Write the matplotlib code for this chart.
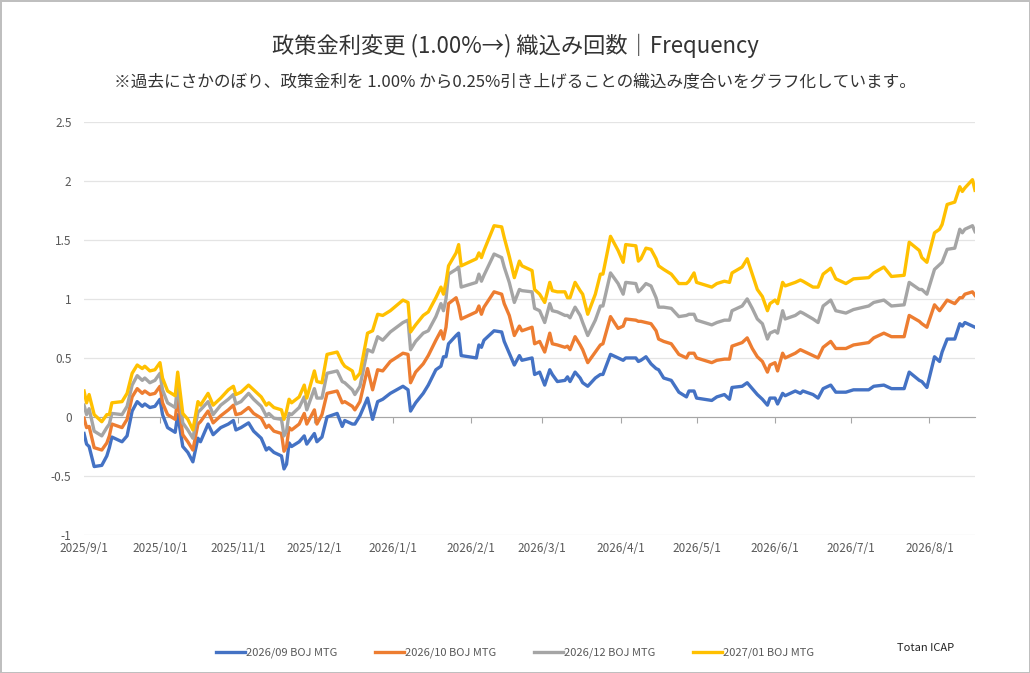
import matplotlib
matplotlib.use("Agg")
import matplotlib.pyplot as plt
import matplotlib.dates as mdates
import numpy as np
import pandas as pd

plt.rcParams["font.family"] = ["Noto Sans CJK JP", "DejaVu Sans"]

# sample dates (at the turning points)
dates = [
    "2025-09-01", "2025-09-02", "2025-09-03", "2025-09-05", "2025-09-08", "2025-09-10",
    "2025-09-11", "2025-09-12", "2025-09-16", "2025-09-18", "2025-09-20", "2025-09-22",
    "2025-09-24", "2025-09-25", "2025-09-27", "2025-09-29", "2025-10-01", "2025-10-02",
    "2025-10-04", "2025-10-07", "2025-10-08", "2025-10-10", "2025-10-12", "2025-10-14",
    "2025-10-16", "2025-10-17", "2025-10-20", "2025-10-22", "2025-10-25", "2025-10-28",
    "2025-10-30", "2025-10-31", "2025-11-02", "2025-11-05", "2025-11-07", "2025-11-10",
    "2025-11-12", "2025-11-13", "2025-11-15", "2025-11-18", "2025-11-19", "2025-11-20",
    "2025-11-21", "2025-11-22", "2025-11-25", "2025-11-27", "2025-11-28", "2025-12-01",
    "2025-12-02", "2025-12-04", "2025-12-06", "2025-12-10", "2025-12-12", "2025-12-13",
    "2025-12-16", "2025-12-17", "2025-12-19",
    "2025-12-22", "2025-12-24", "2025-12-26", "2025-12-28", "2025-12-31", "2026-01-05",
    "2026-01-07", "2026-01-08", "2026-01-10", "2026-01-13", "2026-01-15", "2026-01-18",
    "2026-01-20", "2026-01-21", "2026-01-22", "2026-01-23", "2026-01-26", "2026-01-27",
    "2026-01-28", "2026-02-03", "2026-02-04", "2026-02-05", "2026-02-06", "2026-02-10",
    "2026-02-13", "2026-02-14", "2026-02-16", "2026-02-18", "2026-02-20", "2026-02-21",
    "2026-02-25", "2026-02-26", "2026-02-28", "2026-03-02", "2026-03-04", "2026-03-05",
    "2026-03-07", "2026-03-10", "2026-03-11", "2026-03-12", "2026-03-14", "2026-03-16",
    "2026-03-17", "2026-03-19", "2026-03-22", "2026-03-24", "2026-03-25", "2026-03-28",
    "2026-03-31", "2026-04-02", "2026-04-03", "2026-04-07", "2026-04-08", "2026-04-09",
    "2026-04-11", "2026-04-13", "2026-04-15", "2026-04-16", "2026-04-18", "2026-04-21",
    "2026-04-24", "2026-04-27", "2026-04-28", "2026-04-30", "2026-05-01", "2026-05-07",
    "2026-05-09", "2026-05-12", "2026-05-14", "2026-05-15", "2026-05-19", "2026-05-21",
    "2026-05-23", "2026-05-25", "2026-05-27", "2026-05-29", "2026-05-30", "2026-06-01",
    "2026-06-02", "2026-06-04", "2026-06-05", "2026-06-09", "2026-06-11", "2026-06-12",
    "2026-06-16", "2026-06-18", "2026-06-20", "2026-06-23", "2026-06-25", "2026-06-29",
    "2026-07-02", "2026-07-08", "2026-07-10", "2026-07-14", "2026-07-17", "2026-07-22",
    "2026-07-24", "2026-07-28", "2026-07-29", "2026-07-31", "2026-08-03", "2026-08-05",
    "2026-08-06", "2026-08-08", "2026-08-11", "2026-08-13", "2026-08-14", "2026-08-15",
    "2026-08-18", "2026-08-19",
]

mtg_2609 = [
    -0.14, -0.23, -0.25, -0.42, -0.41, -0.33, -0.26, -0.17, -0.21, -0.16, 0.05, 0.13,
    0.09, 0.11, 0.08, 0.09, 0.15, 0.02, -0.09, -0.13, 0.02, -0.25, -0.30, -0.38,
    -0.18, -0.21, -0.06, -0.15, -0.09, -0.06, -0.03, -0.11, -0.09, -0.05, -0.12, -0.18,
    -0.28, -0.26, -0.30, -0.33, -0.44, -0.40, -0.22, -0.25, -0.21, -0.16, -0.23, -0.14,
    -0.21, -0.17, 0.00, 0.03, -0.08, -0.03, -0.06, -0.06, 0.01,
    0.16, -0.02, 0.13, 0.15, 0.20, 0.26, 0.23, 0.05, 0.12, 0.20, 0.27, 0.40,
    0.43, 0.51, 0.51, 0.62, 0.69, 0.71, 0.52, 0.50, 0.61, 0.59, 0.65, 0.73,
    0.72, 0.64, 0.54, 0.44, 0.52, 0.48, 0.50, 0.36, 0.38, 0.27, 0.40, 0.36,
    0.30, 0.31, 0.34, 0.30, 0.38, 0.33, 0.29, 0.26, 0.33, 0.36, 0.36, 0.53,
    0.50, 0.48, 0.50, 0.50, 0.47, 0.48, 0.51, 0.45, 0.41, 0.40, 0.33, 0.31,
    0.21, 0.17, 0.22, 0.22, 0.16, 0.14, 0.17, 0.19, 0.15, 0.25, 0.26, 0.29,
    0.24, 0.19, 0.15, 0.10, 0.16, 0.16, 0.11, 0.20, 0.18, 0.22, 0.20, 0.22,
    0.19, 0.16, 0.24, 0.27, 0.21, 0.21, 0.23, 0.23, 0.26, 0.27, 0.24, 0.24,
    0.38, 0.31, 0.30, 0.25, 0.51, 0.47, 0.55, 0.66, 0.66, 0.79, 0.77, 0.80,
    0.77, 0.76,
]

mtg_2610 = [
    -0.01, -0.09, -0.08, -0.26, -0.28, -0.22, -0.16, -0.06, -0.09, -0.02, 0.17, 0.24,
    0.20, 0.22, 0.19, 0.20, 0.26, 0.12, 0.02, -0.02, 0.16, -0.15, -0.21, -0.28,
    -0.06, -0.04, 0.05, -0.05, 0.01, 0.06, 0.10, 0.02, 0.03, 0.08, 0.03, -0.01,
    -0.09, -0.07, -0.12, -0.14, -0.29, -0.25, -0.09, -0.11, -0.06, 0.03, -0.06, 0.06,
    -0.06, 0.02, 0.20, 0.22, 0.12, 0.13, 0.09, 0.06, 0.13,
    0.41, 0.23, 0.40, 0.39, 0.47, 0.54, 0.53, 0.29, 0.38, 0.45, 0.52, 0.65,
    0.73, 0.66, 0.76, 0.96, 1.01, 0.94, 0.83, 0.89, 0.94, 0.87, 0.93, 1.06,
    1.04, 0.96, 0.86, 0.69, 0.77, 0.73, 0.76, 0.62, 0.64, 0.55, 0.71, 0.62,
    0.61, 0.59, 0.60, 0.57, 0.68, 0.61, 0.57, 0.46, 0.55, 0.61, 0.62, 0.85,
    0.75, 0.77, 0.83, 0.82, 0.81, 0.81, 0.80, 0.79, 0.73, 0.66, 0.64, 0.62,
    0.53, 0.50, 0.54, 0.54, 0.50, 0.46, 0.48, 0.49, 0.49, 0.60, 0.63, 0.67,
    0.58, 0.51, 0.47, 0.38, 0.44, 0.46, 0.39, 0.54, 0.50, 0.54, 0.57, 0.56,
    0.52, 0.50, 0.59, 0.64, 0.58, 0.58, 0.61, 0.63, 0.67, 0.71, 0.68, 0.68,
    0.86, 0.81, 0.79, 0.76, 0.95, 0.90, 0.93, 0.99, 0.96, 1.01, 1.01, 1.04,
    1.06, 1.03,
]

mtg_2612 = [
    0.10, 0.02, 0.07, -0.12, -0.16, -0.09, -0.06, 0.03, 0.02, 0.09, 0.27, 0.35,
    0.31, 0.33, 0.29, 0.31, 0.37, 0.23, 0.12, 0.08, 0.27, -0.05, -0.11, -0.18,
    0.04, 0.06, 0.13, 0.02, 0.10, 0.15, 0.19, 0.11, 0.13, 0.20, 0.15, 0.09,
    0.01, 0.03, -0.01, -0.02, -0.16, -0.12, 0.03, 0.02, 0.08, 0.17, 0.06, 0.24,
    0.16, 0.16, 0.37, 0.39, 0.30, 0.29, 0.23, 0.19, 0.26,
    0.57, 0.55, 0.68, 0.65, 0.72, 0.80, 0.82, 0.57, 0.64, 0.71, 0.73, 0.85,
    0.96, 0.90, 1.00, 1.21, 1.25, 1.27, 1.10, 1.14, 1.21, 1.15, 1.20, 1.38,
    1.35, 1.27, 1.14, 0.97, 1.08, 1.07, 1.06, 0.92, 0.90, 0.80, 0.96, 0.90,
    0.89, 0.86, 0.86, 0.84, 0.93, 0.86, 0.80, 0.69, 0.82, 0.94, 0.94, 1.22,
    1.13, 1.04, 1.14, 1.13, 1.06, 1.08, 1.13, 1.11, 1.01, 0.93, 0.93, 0.92,
    0.85, 0.86, 0.87, 0.87, 0.82, 0.78, 0.80, 0.82, 0.82, 0.90, 0.94, 1.00,
    0.92, 0.83, 0.79, 0.66, 0.71, 0.73, 0.71, 0.90, 0.83, 0.86, 0.89, 0.88,
    0.83, 0.80, 0.94, 0.99, 0.90, 0.88, 0.91, 0.94, 0.97, 0.99, 0.94, 0.95,
    1.14, 1.08, 1.08, 1.04, 1.25, 1.29, 1.31, 1.42, 1.43, 1.59, 1.56, 1.59,
    1.62, 1.57,
]

mtg_2701 = [
    0.22, 0.12, 0.19, 0.02, -0.04, 0.02, 0.02, 0.12, 0.13, 0.20, 0.37, 0.44,
    0.41, 0.43, 0.39, 0.40, 0.46, 0.33, 0.22, 0.18, 0.38, 0.03, -0.02, -0.11,
    0.13, 0.10, 0.20, 0.10, 0.16, 0.23, 0.26, 0.19, 0.21, 0.27, 0.23, 0.17,
    0.10, 0.12, 0.08, 0.06, -0.02, 0.05, 0.15, 0.12, 0.17, 0.27, 0.16, 0.39,
    0.30, 0.29, 0.53, 0.55, 0.46, 0.43, 0.39, 0.32, 0.37,
    0.71, 0.73, 0.87, 0.86, 0.90, 0.99, 0.97, 0.72, 0.78, 0.86, 0.89, 1.01,
    1.10, 1.04, 1.14, 1.28, 1.39, 1.46, 1.28, 1.34, 1.39, 1.35, 1.41, 1.62,
    1.61, 1.52, 1.36, 1.18, 1.32, 1.28, 1.24, 1.08, 1.04, 0.97, 1.14, 1.07,
    1.06, 1.06, 1.01, 1.01, 1.14, 1.07, 1.04, 0.87, 1.04, 1.21, 1.21, 1.53,
    1.41, 1.31, 1.46, 1.45, 1.32, 1.34, 1.43, 1.42, 1.34, 1.28, 1.25, 1.21,
    1.13, 1.13, 1.15, 1.22, 1.14, 1.10, 1.13, 1.15, 1.14, 1.22, 1.27, 1.34,
    1.21, 1.08, 1.02, 0.90, 0.96, 0.99, 0.96, 1.14, 1.11, 1.14, 1.16, 1.15,
    1.10, 1.10, 1.21, 1.26, 1.17, 1.13, 1.17, 1.18, 1.22, 1.27, 1.19, 1.20,
    1.48, 1.41, 1.35, 1.31, 1.56, 1.59, 1.63, 1.80, 1.82, 1.95, 1.91, 1.94,
    2.01, 1.92,
]

series_names = ["2026/09 BOJ MTG", "2026/10 BOJ MTG", "2026/12 BOJ MTG", "2027/01 BOJ MTG"]
series_colors = ["#4472C4", "#ED7D31", "#A5A5A5", "#FFC000"]

month_ticks = [
    "2025-09-01", "2025-10-01", "2025-11-01", "2025-12-01", "2026-01-01", "2026-02-01",
    "2026-03-01", "2026-04-01", "2026-05-01", "2026-06-01", "2026-07-01", "2026-08-01",
]
month_labels = [
    "2025/9/1", "2025/10/1", "2025/11/1", "2025/12/1", "2026/1/1", "2026/2/1",
    "2026/3/1", "2026/4/1", "2026/5/1", "2026/6/1", "2026/7/1", "2026/8/1",
]
y_ticks = [-1, -0.5, 0, 0.5, 1, 1.5, 2, 2.5]
y_labels = ["-1", "-0.5", "0", "0.5", "1", "1.5", "2", "2.5"]

title = "政策金利変更 (1.00%→) 織込み回数｜Frequency"
subtitle = "※過去にさかのぼり、政策金利を 1.00% から0.25%引き上げることの織込み度合いをグラフ化しています。"
source = "Totan ICAP"

x = pd.to_datetime(dates)
tick_dates = mdates.date2num(pd.to_datetime(month_ticks))

fig = plt.figure(figsize=(10.3, 6.73), dpi=100)
fig.patch.set_edgecolor("#bfbfbf")
fig.patch.set_linewidth(2)
ax = fig.add_axes([0.0816, 0.205, 0.865, 0.614])

lines = []
for vals, name, col in zip([mtg_2609, mtg_2610, mtg_2612, mtg_2701], series_names, series_colors):
    (ln,) = ax.plot(x, vals, color=col, lw=2.4, label=name, solid_joinstyle="round")
    lines.append(ln)

ax.set_xlim(pd.Timestamp(dates[0]), pd.Timestamp(dates[-1]))
ax.set_ylim(-1, 2.5)
ax.set_yticks(y_ticks, y_labels)
ax.grid(axis="y", color="#e4e4e4", lw=0.9)
ax.set_axisbelow(True)

for side in ["left", "right", "top"]:
    ax.spines[side].set_visible(False)
ax.spines["bottom"].set_position(("data", 0))
ax.spines["bottom"].set_color("#a6a6a6")
ax.spines["bottom"].set_zorder(1)

ax.set_xticks(tick_dates)
ax.tick_params(axis="x", direction="out", length=4, color="#a6a6a6", labelbottom=False)
ax.tick_params(axis="y", length=0, pad=9, labelsize=8.5, labelcolor="#595959")

sec = ax.secondary_xaxis("bottom")
sec.set_xticks(tick_dates, month_labels)
sec.tick_params(length=0, pad=5, labelsize=8.5, labelcolor="#595959")
sec.spines["bottom"].set_visible(False)

fig.text(0.5, 1 - 46 / 673, title, ha="center", va="center", fontsize=16, color="#333333")
fig.text(0.5, 1 - 82 / 673, subtitle, ha="center", va="center", fontsize=12, color="#333333")

leg = fig.legend(
    handles=lines,
    loc="center",
    bbox_to_anchor=(0.5, 1 - 653 / 673),
    ncol=4,
    frameon=False,
    fontsize=8,
    handlelength=2.6,
    handletextpad=0.1,
    columnspacing=3.4,
)
for t in leg.get_texts():
    t.set_color("#595959")

fig.text(926 / 1030, 1 - 648 / 673, source, ha="center", va="center", fontsize=8, color="#222222")

fig.savefig("out.png", dpi=100, edgecolor=fig.get_edgecolor())
